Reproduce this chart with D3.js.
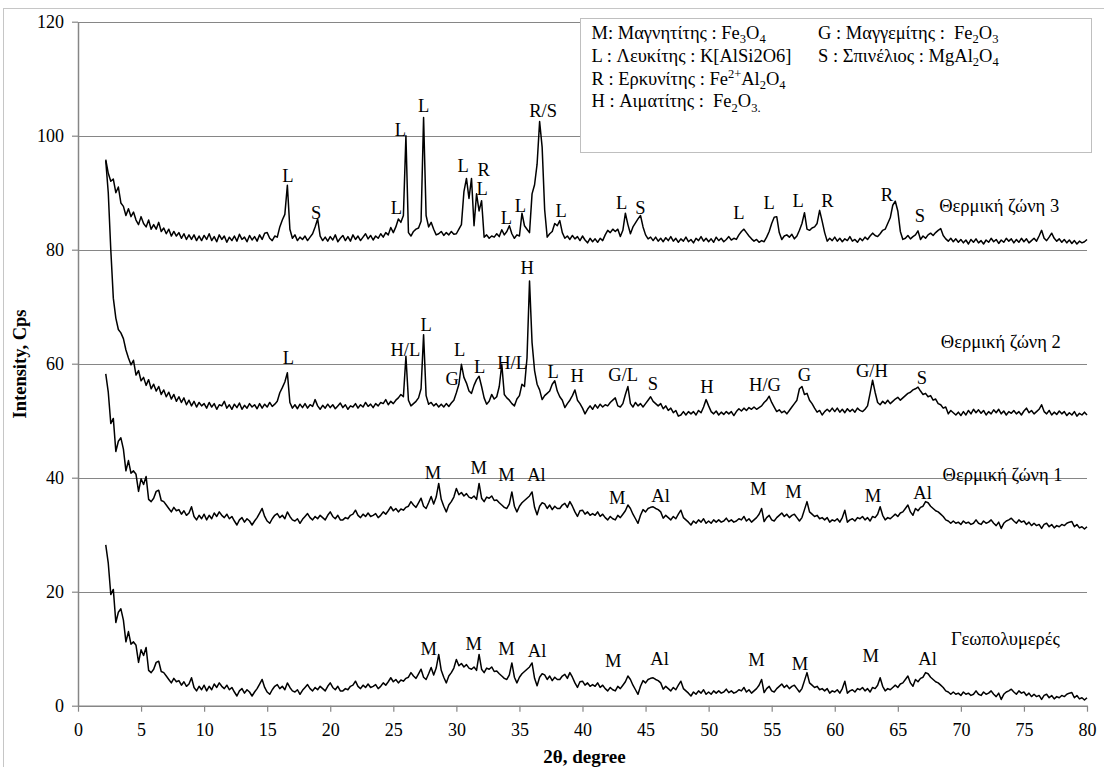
<!DOCTYPE html>
<html>
<head>
<meta charset="utf-8">
<script src="https://cdn.jsdelivr.net/npm/d3@7"></script>
<style>
  body { margin: 0; background: #fff; }
</style>
</head>
<body>
<svg id="chart" width="1104" height="767"></svg>
<script>
// Diffraction scans: intensity sampled every 0.2° of 2θ, starting at 2.2°
const angleStart = 2.2;
const angleStep = 0.2;

const zone3 = [
  95.8,93.4,92.0,92.4,90.0,91.0,88.2,87.6,86.0,87.2,
  85.8,86.6,85.2,84.4,85.8,84.6,84.0,85.2,83.6,84.4,
  83.6,84.8,83.2,83.8,82.8,83.6,82.4,83.2,82.4,83.0,
  82.0,82.8,81.8,82.6,81.8,82.6,81.6,82.4,81.6,82.5,
  81.8,82.8,81.6,82.3,81.4,82.6,81.8,82.4,81.3,82.2,
  81.6,82.4,81.5,82.7,81.8,82.2,81.4,82.5,81.7,82.3,
  81.5,82.6,81.8,82.9,83.0,82.0,81.6,82.4,82.2,84.0,
  85.2,86.2,91.3,83.6,82.0,82.6,81.6,82.2,81.8,82.4,
  81.6,82.2,82.8,84.0,85.4,82.4,81.6,82.2,81.5,82.3,
  81.7,82.6,81.4,82.0,82.5,81.6,82.3,81.5,82.6,81.8,
  82.4,81.6,82.2,82.8,81.9,82.5,81.7,82.4,82.0,82.8,
  82.2,83.0,82.6,83.9,83.0,84.0,85.4,84.8,86.0,100.0,
  83.0,82.4,83.2,83.6,83.8,85.0,103.2,86.0,84.0,84.8,
  83.6,82.6,82.8,83.2,82.5,83.0,82.6,83.2,82.7,82.8,
  83.6,84.4,90.2,92.5,89.0,92.5,84.2,89.8,86.8,88.6,
  82.2,82.6,82.0,82.4,82.2,82.8,82.3,83.5,82.6,83.2,
  84.2,82.8,82.0,82.6,82.4,86.4,84.2,83.6,83.0,89.8,
  91.4,95.0,102.5,98.0,87.0,82.2,82.8,83.2,84.6,84.2,
  85.1,83.0,82.0,82.4,81.8,82.5,81.9,82.3,81.6,82.4,
  81.7,81.2,82.0,81.4,81.9,81.3,82.0,81.6,82.6,83.4,
  83.0,83.6,83.2,83.6,82.3,83.4,86.4,84.4,82.8,84.0,
  84.7,85.4,86.0,84.0,82.6,81.9,82.2,81.6,82.2,81.5,
  82.0,81.4,82.1,81.6,82.3,81.5,82.0,81.3,81.9,81.5,
  82.2,81.4,81.8,81.2,82.0,81.6,82.3,81.5,82.0,81.4,
  81.9,81.3,82.2,81.6,82.0,81.4,81.8,82.3,81.7,82.0,
  81.8,82.6,83.2,83.6,83.0,82.4,81.9,81.5,81.8,81.3,
  81.6,81.4,82.2,83.2,84.6,85.7,85.8,83.0,81.8,82.4,
  82.6,82.2,82.7,81.9,82.4,83.4,84.6,86.5,83.6,83.4,
  83.8,84.0,84.6,86.9,85.0,83.0,81.5,82.0,81.6,82.2,
  81.5,82.0,81.4,81.9,81.6,82.3,81.5,81.8,81.3,82.0,
  81.6,82.2,81.8,82.4,82.9,82.5,82.3,82.8,83.4,83.6,
  84.6,85.6,87.8,88.5,86.8,83.2,81.8,82.0,82.5,81.9,
  82.3,82.6,83.3,81.8,82.4,82.0,82.6,82.9,82.5,83.0,
  83.4,83.7,82.5,81.9,81.5,82.0,81.4,81.9,81.3,81.8,
  81.2,81.7,81.0,81.8,81.3,81.9,81.2,81.6,81.0,81.7,
  81.3,82.0,81.4,81.8,81.1,81.7,81.3,82.0,81.5,81.9,
  81.2,81.8,81.3,82.0,81.4,81.9,81.2,81.6,82.0,81.5,
  82.4,83.4,82.0,81.6,82.2,82.9,82.0,81.5,81.9,81.3,
  81.8,81.2,81.7,81.1,81.6,81.0,81.5,81.2,81.4,81.8
];

const zone2 = [
  95.6,90.0,80.0,71.5,68.0,66.0,65.4,64.4,62.4,61.0,
  59.8,60.6,58.0,58.8,57.0,57.6,56.2,57.2,55.6,56.4,
  55.2,56.0,54.6,55.4,54.2,55.0,53.8,54.6,53.4,54.2,
  53.2,54.0,52.8,53.6,52.6,53.4,52.4,53.2,52.6,53.0,
  52.2,53.2,52.4,53.0,52.0,52.8,52.6,53.4,52.2,52.8,
  52.0,52.9,52.3,53.1,52.0,52.7,52.2,53.0,52.4,52.8,
  52.1,53.0,52.2,52.9,52.4,53.2,52.5,52.9,53.4,54.9,
  55.8,56.8,58.4,53.2,52.2,52.8,52.1,52.9,52.3,53.0,
  52.2,52.8,52.5,53.7,52.6,52.0,52.7,52.2,52.9,52.3,
  52.8,52.1,52.6,53.1,52.3,52.8,52.0,52.6,52.4,53.0,
  52.2,52.8,52.4,53.2,52.5,52.9,52.3,53.0,52.6,53.2,
  53.0,53.7,52.8,53.4,53.0,53.6,54.0,54.6,54.2,61.3,
  53.6,52.6,53.0,53.4,54.0,55.6,65.1,54.4,52.9,53.2,
  52.6,53.0,52.4,52.9,52.4,53.0,52.5,53.1,53.6,54.9,
  56.4,59.9,57.6,56.6,55.2,54.8,56.2,57.2,57.8,56.0,
  54.0,52.9,53.4,54.6,53.8,54.2,56.0,59.9,54.6,54.0,
  53.6,53.0,52.6,53.8,54.4,56.4,56.0,61.0,74.5,63.7,
  58.8,56.4,55.4,53.7,54.4,54.8,55.2,56.4,57.0,55.2,
  54.2,53.6,52.3,53.0,53.6,54.4,55.4,53.6,53.0,52.2,
  51.2,52.0,52.6,52.0,52.8,52.2,52.9,52.4,52.8,52.6,
  53.2,53.6,54.0,52.6,52.4,53.0,54.6,56.0,53.0,52.4,
  53.2,52.6,53.0,52.4,53.0,53.6,54.2,53.4,53.0,52.6,
  53.0,52.1,52.6,51.8,52.2,51.4,51.8,50.8,51.0,51.6,
  51.0,51.6,51.2,51.6,51.0,51.8,51.4,52.4,53.7,52.6,
  51.6,51.2,51.7,51.0,51.5,51.1,51.6,51.2,51.6,50.9,
  51.6,52.1,51.7,52.2,51.8,52.3,52.0,52.4,52.0,52.3,
  52.6,53.2,53.6,54.3,53.2,52.4,51.6,51.9,51.4,51.7,
  51.2,51.8,52.4,53.0,53.6,55.6,56.0,54.6,54.8,53.6,
  53.0,52.2,51.5,51.8,51.0,51.6,52.0,51.6,52.2,51.6,
  52.2,51.5,52.0,51.4,52.1,51.6,52.0,51.5,52.2,51.8,
  51.6,52.0,52.6,54.8,57.1,55.0,53.2,52.8,53.4,53.0,
  53.6,53.0,53.4,53.8,54.1,53.6,54.0,54.4,54.8,55.0,
  55.4,55.6,55.9,55.2,54.6,54.8,54.2,54.4,53.6,53.8,
  53.0,52.8,52.2,52.4,51.2,51.8,51.4,51.0,51.5,50.9,
  51.6,51.0,51.8,51.2,52.0,51.4,51.9,51.3,51.8,51.0,
  51.6,51.2,51.9,51.4,52.0,51.2,51.7,51.0,51.6,51.3,
  51.8,51.2,51.6,51.0,51.7,52.2,51.4,51.8,51.2,51.6,
  52.0,52.8,51.6,51.2,51.8,51.0,51.5,51.1,51.7,51.2,
  51.6,50.9,51.4,51.0,51.6,50.8,51.3,51.0,51.5,51.0
];

const zone1 = [
  58.2,55.0,49.5,50.4,44.6,46.4,47.0,45.0,41.2,43.0,
  40.8,41.2,40.6,37.6,39.8,38.8,40.2,36.2,35.8,36.4,
  37.6,37.8,36.0,35.8,35.2,34.6,34.0,34.8,34.2,34.4,
  33.6,34.2,33.4,33.8,34.9,33.2,32.6,33.4,32.8,33.6,
  32.6,33.4,32.8,33.8,33.2,34.0,33.4,33.0,33.6,32.8,
  33.2,32.4,31.7,32.6,33.0,32.2,32.8,32.4,31.7,32.4,
  33.0,33.8,34.6,33.2,32.4,32.0,32.8,33.4,33.7,33.0,
  33.4,32.8,34.0,33.2,32.6,32.4,32.8,32.0,32.7,33.2,
  33.7,33.0,32.6,33.2,32.8,33.4,33.0,32.6,33.4,34.0,
  33.2,32.8,33.4,32.6,32.6,33.0,32.8,33.4,33.6,34.3,
  33.4,33.0,33.6,33.2,33.8,33.2,33.4,33.7,33.0,33.4,
  34.0,33.6,34.2,34.9,34.2,34.6,34.0,34.5,34.3,34.8,
  35.0,35.8,35.2,34.8,35.6,36.4,35.0,34.6,35.6,36.7,
  35.4,36.6,39.0,36.2,35.0,34.0,35.2,35.8,36.6,38.1,
  37.0,37.4,36.8,37.2,36.6,36.4,36.8,36.2,39.0,36.4,
  35.8,36.6,36.4,36.8,36.0,36.1,35.6,35.2,34.8,34.6,
  35.4,37.5,35.0,34.0,35.0,35.6,36.0,36.4,36.8,37.5,
  34.8,33.5,35.0,35.6,35.4,34.6,35.2,34.4,35.0,34.6,
  34.6,35.2,35.5,34.8,35.8,35.0,34.0,33.2,34.2,34.3,
  33.6,34.0,33.4,33.7,33.4,34.0,33.2,33.6,33.0,32.6,
  33.2,32.8,32.6,33.4,33.0,33.6,34.2,35.2,34.6,33.6,
  32.8,32.0,33.4,34.4,34.0,34.6,34.8,34.9,34.6,34.4,
  34.0,32.9,33.4,33.0,32.6,33.2,32.8,33.6,34.3,33.0,
  32.6,32.2,31.7,32.4,32.0,32.6,32.2,32.8,32.0,32.4,
  32.0,32.6,32.2,32.6,32.2,32.4,32.9,32.3,32.6,32.2,
  32.4,32.8,32.6,33.2,32.4,32.8,32.2,32.6,33.0,33.6,
  34.6,32.3,33.0,33.4,32.6,32.4,33.0,33.4,33.8,33.2,
  33.6,33.0,33.4,33.6,33.0,32.4,33.0,34.4,35.8,34.0,
  33.6,33.2,33.4,32.8,33.0,32.6,33.0,32.2,32.6,32.4,
  32.8,32.2,33.0,34.3,32.2,32.6,32.8,32.4,33.0,32.8,
  33.2,32.6,33.0,32.4,33.2,33.0,33.6,34.9,33.4,32.6,
  33.0,32.8,33.2,33.6,33.2,33.8,34.0,34.6,35.2,34.0,
  33.4,34.6,34.2,34.8,35.0,35.8,35.6,35.0,34.6,34.2,
  34.0,33.6,33.2,32.6,32.4,32.0,32.4,32.0,32.2,31.8,
  32.4,32.0,32.2,31.8,32.0,32.6,32.0,31.8,32.4,32.0,
  32.2,32.6,32.0,31.6,32.2,31.1,32.0,32.4,32.6,32.9,
  32.4,32.0,32.6,32.2,32.4,31.8,32.2,31.6,32.0,31.6,
  31.8,31.1,31.8,32.0,31.4,31.8,31.2,31.6,31.4,31.8,
  31.6,32.0,32.2,32.3,31.4,31.8,31.2,31.4,31.0,31.4
];

const geopolymer = [
  28.2,25.0,19.5,20.4,14.6,16.4,17.0,15.0,11.2,13.0,
  10.8,11.2,10.6,7.6,9.8,8.8,10.2,6.2,5.8,6.4,
  7.6,7.8,6.0,5.8,5.2,4.6,4.0,4.8,4.2,4.4,
  3.6,4.2,3.4,3.8,4.9,3.2,2.6,3.4,2.8,3.6,
  2.6,3.4,2.8,3.8,3.2,4.0,3.4,3.0,3.6,2.8,
  3.2,2.4,1.7,2.6,3.0,2.2,2.8,2.4,1.7,2.4,
  3.0,3.8,4.6,3.2,2.4,2.0,2.8,3.4,3.7,3.0,
  3.4,2.8,4.0,3.2,2.6,2.4,2.8,2.0,2.7,3.2,
  3.7,3.0,2.6,3.2,2.8,3.4,3.0,2.6,3.4,4.0,
  3.2,2.8,3.4,2.6,2.6,3.0,2.8,3.4,3.6,4.3,
  3.4,3.0,3.6,3.2,3.8,3.2,3.4,3.7,3.0,3.4,
  4.0,3.6,4.2,4.9,4.2,4.6,4.0,4.5,4.3,4.8,
  5.0,5.8,5.2,4.8,5.6,6.4,5.0,4.6,5.6,6.7,
  5.4,6.6,9.0,6.2,5.0,4.0,5.2,5.8,6.6,8.1,
  7.0,7.4,6.8,7.2,6.6,6.4,6.8,6.2,9.0,6.4,
  5.8,6.6,6.4,6.8,6.0,6.1,5.6,5.2,4.8,4.6,
  5.4,7.5,5.0,4.0,5.0,5.6,6.0,6.4,6.8,7.5,
  4.8,3.5,5.0,5.6,5.4,4.6,5.2,4.4,5.0,4.6,
  4.6,5.2,5.5,4.8,5.8,5.0,4.0,3.2,4.2,4.3,
  3.6,4.0,3.4,3.7,3.4,4.0,3.2,3.6,3.0,2.6,
  3.2,2.8,2.6,3.4,3.0,3.6,4.2,5.2,4.6,3.6,
  2.8,2.0,3.4,4.4,4.0,4.6,4.8,4.9,4.6,4.4,
  4.0,2.9,3.4,3.0,2.6,3.2,2.8,3.6,4.3,3.0,
  2.6,2.2,1.7,2.4,2.0,2.6,2.2,2.8,2.0,2.4,
  2.0,2.6,2.2,2.6,2.2,2.4,2.9,2.3,2.6,2.2,
  2.4,2.8,2.6,3.2,2.4,2.8,2.2,2.6,3.0,3.6,
  4.6,2.3,3.0,3.4,2.6,2.4,3.0,3.4,3.8,3.2,
  3.6,3.0,3.4,3.6,3.0,2.4,3.0,4.4,5.8,4.0,
  3.6,3.2,3.4,2.8,3.0,2.6,3.0,2.2,2.6,2.4,
  2.8,2.2,3.0,4.3,2.2,2.6,2.8,2.4,3.0,2.8,
  3.2,2.6,3.0,2.4,3.2,3.0,3.6,4.9,3.4,2.6,
  3.0,2.8,3.2,3.6,3.2,3.8,4.0,4.6,5.2,4.0,
  3.4,4.6,4.2,4.8,5.0,5.8,5.6,5.0,4.6,4.2,
  4.0,3.6,3.2,2.6,2.4,2.0,2.4,2.0,2.2,1.8,
  2.4,2.0,2.2,1.8,2.0,2.6,2.0,1.8,2.4,2.0,
  2.2,2.6,2.0,1.6,2.2,1.1,2.0,2.4,2.6,2.9,
  2.4,2.0,2.6,2.2,2.4,1.8,2.2,1.6,2.0,1.6,
  1.8,1.1,1.8,2.0,1.4,1.8,1.2,1.6,1.4,1.8,
  1.6,2.0,2.2,2.3,1.4,1.8,1.2,1.4,1.0,1.4
];

// Phase identification letters: [2θ, intensity at text baseline, letter]
const zone3Peaks = [
  [16.64,91.8,"L"],[18.89,85.4,"S"],[25.24,86.3,"L"],[25.56,100.0,"L"],[27.40,104.1,"L"],
  [30.53,93.7,"L"],[32.17,92.9,"R"],[32.04,89.6,"L"],[33.97,84.5,"L"],[35.08,86.6,"L"],
  [36.88,103.2,"R/S"],[38.31,85.7,"L"],[43.10,87.2,"L"],[44.60,86.3,"S"],[52.40,85.4,"L"],
  [54.79,87.2,"L"],[57.09,87.5,"L"],[59.42,87.5,"R"],[64.13,88.6,"R"],[66.75,84.8,"S"]
];
const zone2Peaks = [
  [16.69,60.0,"L"],[25.95,61.4,"H/L"],[27.60,65.8,"L"],[29.66,56.3,"G"],[30.26,61.3,"L"],
  [31.85,58.4,"L"],[34.42,59.1,"H/L"],[35.61,75.8,"H"],[37.67,57.5,"L"],[39.58,56.8,"H"],
  [43.23,56.9,"G/L"],[45.58,55.4,"S"],[49.87,54.9,"H"],[54.47,55.2,"H/G"],[57.59,56.9,"G"],
  [62.94,57.6,"G/H"],[66.90,56.5,"S"]
];
const zone1Peaks = [
  [28.15,39.8,"M"],[31.77,40.7,"M"],[33.97,39.5,"M"],[36.35,39.5,"Al"],[42.75,35.4,"M"],
  [46.19,35.7,"Al"],[53.94,37.0,"M"],[56.72,36.4,"M"],[63.04,35.7,"M"],[66.96,36.3,"Al"]
];
const geopolymerPeaks = [
  [27.80,8.9,"M"],[31.37,9.7,"M"],[33.97,8.9,"M"],[36.40,8.5,"Al"],[42.44,6.8,"M"],
  [46.11,7.1,"Al"],[53.79,6.9,"M"],[57.25,6.2,"M"],[62.86,7.6,"M"],[67.36,7.2,"Al"]
];

// Sample names written beside each scan: [2θ of text start, intensity at baseline, name]
const seriesNames = [
  [68.28,86.6,"Θερμική ζώνη 3"],
  [68.41,62.8,"Θερμική ζώνη 2"],
  [68.55,39.5,"Θερμική ζώνη 1"],
  [69.21,10.6,"Γεωπολυμερές"]
];

const xTickValues = [0,5,10,15,20,25,30,35,40,45,50,55,60,65,70,75,80];
const yTickValues = [0,20,40,60,80,100,120];

// Key: phase code and name, then the formula as [text, shift] pieces (-1 sub, +1 sup)
const legendLeftColumn = [
  ["M: Μαγνητίτης : ", [["Fe",0],["3",-1],["O",0],["4",-1]]],
  ["L : Λευκίτης : ", [["K[AlSi2O6]",0]]],
  ["R : Ερκυνίτης : ", [["Fe",0],["2+",1],["Al",0],["2",-1],["O",0],["4",-1]]],
  ["H : Αιματίτης :  ", [["Fe",0],["2",-1],["O",0],["3.",-1]]]
];
const legendRightColumn = [
  ["G : Μαγγεμίτης :  ", [["Fe",0],["2",-1],["O",0],["3",-1]]],
  ["S : Σπινέλιος : ", [["MgAl",0],["2",-1],["O",0],["4",-1]]]
];

const serifFont = '"Liberation Serif", "Times New Roman", serif';
const labelSize = 18.5;
const svg = d3.select("#chart").style("font-family", serifFont);
const plot = { left: 78, right: 1087, top: 21.7, bottom: 705.7 };
const x = d3.scaleLinear().domain([0, 80]).range([plot.left, plot.right]);
const y = d3.scaleLinear().domain([0, 120]).range([plot.bottom, plot.top]);
const axisGrey = "#868686";

function serifText(sel) {
  return sel.style("font-family", serifFont).attr("fill", "#000");
}

// Chart-area frame
svg.append("rect")
  .attr("x", 3.5).attr("y", 8.5).attr("width", 1200).attr("height", 800)
  .attr("fill", "none").attr("stroke", "#c6c6c6").attr("stroke-width", 1);

// Horizontal gridlines
svg.append("g").selectAll("line")
  .data(yTickValues.filter(v => v > 0))
  .join("line")
  .attr("x1", plot.left).attr("x2", plot.right)
  .attr("y1", d => Math.round(y(d)) + 0.5).attr("y2", d => Math.round(y(d)) + 0.5)
  .attr("stroke", axisGrey).attr("stroke-width", 1);

// Axes
const yAxis = svg.append("g")
  .attr("transform", `translate(${plot.left},0)`)
  .call(d3.axisLeft(y).tickValues(yTickValues).tickSize(6).tickSizeOuter(0).tickPadding(8));
const xAxis = svg.append("g")
  .attr("transform", `translate(0,${plot.bottom})`)
  .call(d3.axisBottom(x).tickValues(xTickValues).tickSize(6).tickSizeOuter(0));

[yAxis, xAxis].forEach(g => {
  g.attr("font-family", null);
  g.select(".domain").attr("stroke", axisGrey).attr("stroke-width", 1.5);
  g.selectAll(".tick line").attr("stroke", axisGrey).attr("stroke-width", 1.2);
  serifText(g.selectAll(".tick text")).attr("font-size", 18);
});
yAxis.selectAll(".tick text").attr("x", -14);
xAxis.selectAll(".tick text").attr("y", 30).attr("dy", 0);

// Axis titles
serifText(svg.append("text"))
  .attr("x", (plot.left + plot.right) / 2 + 2).attr("y", 763)
  .attr("text-anchor", "middle").attr("font-size", 19).attr("font-weight", "bold")
  .text("2θ, degree");
serifText(svg.append("text"))
  .attr("transform", "translate(26,364) rotate(-90)")
  .attr("text-anchor", "middle").attr("font-size", 18.5).attr("font-weight", "bold")
  .text("Intensity, Cps");

// Scans
const line = d3.line()
  .x((d, i) => x(angleStart + angleStep * i))
  .y(d => y(d));

[zone3, zone2, zone1, geopolymer].forEach(series => {
  svg.append("path")
    .datum(series)
    .attr("d", line)
    .attr("fill", "none")
    .attr("stroke", "#000")
    .attr("stroke-width", 1.5)
    .attr("stroke-linejoin", "round");
});

// Peak letters
[zone3Peaks, zone2Peaks, zone1Peaks, geopolymerPeaks].forEach(peaks => {
  serifText(svg.append("g").selectAll("text")
    .data(peaks)
    .join("text"))
    .attr("x", d => x(d[0])).attr("y", d => y(d[1]))
    .attr("text-anchor", "middle").attr("font-size", labelSize)
    .text(d => d[2]);
});

// Sample names
serifText(svg.append("g").selectAll("text")
  .data(seriesNames)
  .join("text"))
  .attr("x", d => x(d[0])).attr("y", d => y(d[1]))
  .attr("font-size", labelSize)
  .text(d => d[2]);

// Key box
const key = svg.append("g");
key.append("rect")
  .attr("x", 580.5).attr("y", 18.5).attr("width", 511).attr("height", 134)
  .attr("fill", "#fff").attr("stroke", "#bfbfbf").attr("stroke-width", 1);

function writeEntry(xPos, yPos, entry) {
  const t = serifText(key.append("text"))
    .attr("x", xPos).attr("y", yPos).attr("font-size", labelSize)
    .style("white-space", "pre");
  t.append("tspan").text(entry[0]);
  let shift = 0;
  entry[1].forEach(([txt, s]) => {
    const target = s === -1 ? 4.5 : s === 1 ? -6.5 : 0;
    t.append("tspan")
      .attr("dy", target - shift)
      .attr("font-size", s === 0 ? labelSize : 12.5)
      .text(txt);
    shift = target;
  });
}
const rowBaselines = [38.5, 61.5, 84.5, 107];
legendLeftColumn.forEach((e, i) => writeEntry(591.5, rowBaselines[i], e));
legendRightColumn.forEach((e, i) => writeEntry(818, rowBaselines[i], e));
</script>
</body>
</html>
